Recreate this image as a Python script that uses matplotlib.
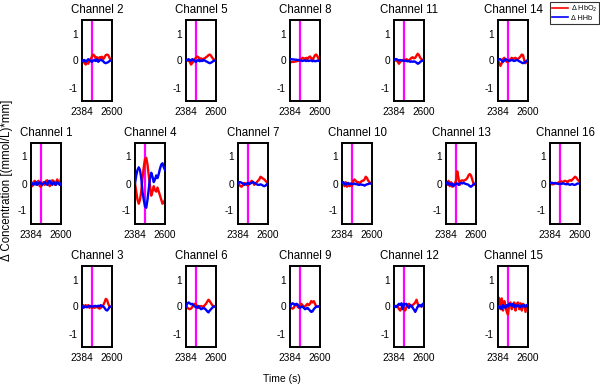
import numpy as np
import matplotlib
matplotlib.use("Agg")
import matplotlib.pyplot as plt
from matplotlib.lines import Line2D

plt.rcParams['font.family'] = ['Liberation Sans', 'DejaVu Sans']

time = np.arange(2384, 2601, 9)  # 25 samples
x_ticks = [2384, 2600]
y_ticks = [-1, 0, 1]
marker_time = 2457

row1 = [2, 5, 8, 11, 14]
row2 = [1, 4, 7, 10, 13, 16]
row3 = [3, 6, 9, 12, 15]

hbo = {
    1: [0, -0.1, 0.05, 0.1, -0.05, 0.05, 0.1, -0.1, -0.12, 0.0, 0.05, -0.05, 0.1, 0.12, 0.0, -0.1, 0.05, 0.12, 0.1, -0.05, 0.05, 0.15, 0.05, -0.05, 0.2],
    2: [0, 0.02, -0.1, -0.15, -0.05, -0.12, 0.0, 0.05, 0.15, 0.22, 0.18, 0.08, 0.12, 0.02, 0.12, 0.1, 0.14, 0.05, 0.12, 0.2, 0.22, 0.2, 0.1, 0.02, 0.0],
    3: [0, 0.05, -0.03, 0.05, 0.0, 0.05, -0.05, 0.02, -0.05, 0.0, -0.05, -0.03, 0.0, -0.05, -0.08, -0.05, 0.0, 0.05, 0.15, 0.28, 0.25, 0.1, 0.0, -0.02, 0.0],
    4: [0.0, -0.3, -0.6, -0.75, -0.6, -0.3, 0.2, 0.6, 0.9, 0.95, 0.7, 0.3, -0.1, -0.45, -0.3, -0.1, -0.25, -0.3, -0.15, -0.3, -0.45, -0.6, -0.75, -0.7, -0.6],
    5: [0, 0.02, 0.0, -0.05, -0.15, -0.1, 0.0, 0.05, 0.1, 0.15, 0.12, 0.05, 0.08, 0.03, 0.07, 0.08, 0.12, 0.15, 0.2, 0.22, 0.18, 0.1, 0.05, 0.02, 0.0],
    6: [0, -0.03, -0.08, -0.1, -0.08, -0.02, 0.05, 0.1, 0.08, 0.0, -0.05, 0.0, 0.02, 0.0, -0.02, 0.05, 0.1, 0.18, 0.25, 0.2, 0.12, 0.05, 0.0, 0.0, 0.0],
    7: [0, -0.05, -0.1, -0.12, -0.05, 0.02, 0.0, -0.05, -0.08, 0.0, 0.05, 0.1, 0.05, -0.05, 0.0, 0.05, 0.1, 0.15, 0.25, 0.22, 0.18, 0.15, 0.1, 0.05, 0.05],
    8: [-0.05, -0.06, -0.05, -0.05, -0.04, -0.03, -0.02, 0.0, 0.02, 0.05, 0.1, 0.08, 0.05, 0.1, 0.05, 0.12, 0.15, 0.08, 0.05, 0.1, 0.2, 0.22, 0.15, 0.05, 0.02],
    9: [0, -0.05, -0.08, -0.05, 0.05, 0.08, 0.0, -0.05, 0.0, 0.1, 0.05, -0.02, 0.0, 0.05, 0.1, 0.05, 0.1, 0.2, 0.15, 0.2, 0.1, 0.0, 0.0, 0.0, 0.0],
    10: [0.0, 0.05, -0.1, 0.05, -0.12, 0.0, -0.1, -0.05, -0.08, 0.1, 0.15, 0.1, 0.05, 0.05, 0.02, 0.05, 0.1, 0.1, 0.15, 0.25, 0.2, 0.1, 0.05, 0.0, 0.0],
    11: [0, 0.0, 0.02, -0.05, -0.12, -0.05, 0.0, 0.02, 0.0, 0.02, 0.05, 0.02, 0.0, 0.05, 0.1, 0.12, 0.08, 0.1, 0.18, 0.25, 0.2, 0.1, 0.05, 0.0, 0.0],
    12: [0.0, -0.02, 0.02, 0.0, -0.1, -0.15, -0.05, 0.0, -0.1, -0.15, 0.0, 0.05, 0.1, 0.05, 0.0, 0.05, 0.1, 0.15, 0.25, 0.1, 0.0, 0.02, 0.0, 0.05, 0.0],
    13: [0.05, -0.05, 0.1, -0.1, 0.05, -0.12, -0.05, 0.0, 0.1, 0.45, 0.2, -0.05, 0.1, 0.12, 0.1, 0.12, 0.15, 0.2, 0.3, 0.35, 0.3, 0.15, 0.0, -0.05, 0.0],
    14: [0, -0.1, -0.2, -0.1, 0.05, 0.1, 0.0, -0.05, -0.05, 0.02, 0.05, 0.1, 0.05, 0.08, 0.1, 0.05, 0.05, 0.1, 0.15, 0.22, 0.2, 0.0, -0.1, -0.05, 0.0],
    15: [0.35, 0.3, -0.1, 0.3, -0.15, 0.2, 0.0, -0.2, -0.3, 0.1, 0.15, -0.1, 0.05, 0.15, -0.15, 0.1, 0.15, -0.1, 0.12, -0.15, 0.1, 0.05, -0.2, 0.05, -0.1],
    16: [-0.03, -0.02, -0.03, -0.02, 0.0, 0.02, 0.0, 0.05, 0.05, 0.08, 0.05, 0.08, 0.1, 0.08, 0.05, 0.1, 0.12, 0.1, 0.15, 0.2, 0.25, 0.22, 0.15, 0.1, 0.05],
}

hhb = {
    1: [0.05, 0.0, -0.05, 0.0, 0.05, -0.05, 0.0, 0.05, 0.0, -0.05, 0.0, 0.05, 0.0, -0.05, 0.08, 0.1, 0.0, -0.05, 0.05, 0.0, -0.05, 0.05, 0.0, -0.05, 0.0],
    2: [0, -0.02, 0.02, -0.05, 0.0, 0.05, 0.02, -0.03, -0.05, 0.0, 0.02, -0.02, 0.04, -0.05, 0.0, 0.03, 0.0, -0.03, -0.08, -0.1, -0.08, -0.06, -0.02, 0.0, 0.0],
    3: [0.0, -0.05, 0.0, 0.0, -0.03, 0.0, 0.02, 0.0, 0.0, 0.0, 0.02, 0.02, 0.0, 0.03, 0.0, 0.05, 0.02, 0.0, -0.05, -0.12, -0.15, -0.1, -0.02, 0.0, 0.0],
    4: [0.0, 0.3, 0.5, 0.6, 0.5, 0.2, -0.3, -0.6, -0.85, -0.9, -0.6, -0.2, 0.2, 0.4, 0.25, 0.05, 0.15, 0.3, 0.2, 0.35, 0.55, 0.7, 0.75, 0.6, 0.5],
    5: [0.02, 0.0, 0.05, 0.02, -0.02, 0.05, 0.03, -0.03, -0.05, 0.0, 0.02, -0.03, 0.0, -0.02, 0.02, 0.0, -0.03, -0.05, -0.08, -0.1, -0.08, -0.05, -0.02, 0.0, 0.0],
    6: [0.0, 0.1, 0.15, 0.12, 0.08, 0.1, 0.05, 0.0, -0.02, -0.05, 0.02, -0.05, -0.1, -0.08, -0.05, -0.08, -0.12, -0.18, -0.22, -0.15, -0.1, -0.05, 0.0, 0.0, 0.0],
    7: [0.0, 0.05, 0.05, 0.02, 0.0, -0.05, -0.03, 0.0, 0.02, -0.02, 0.0, 0.03, 0.05, 0.02, 0.0, -0.03, -0.05, -0.05, -0.03, -0.05, -0.08, -0.1, -0.08, -0.03, 0.0],
    8: [0.05, 0.05, 0.04, 0.04, 0.03, 0.03, 0.02, 0.02, 0.0, 0.0, -0.02, 0.0, 0.0, -0.02, 0.0, -0.02, 0.0, 0.0, -0.03, 0.0, -0.03, -0.02, 0.0, -0.02, 0.0],
    9: [0.0, 0.08, 0.12, 0.1, 0.05, 0.1, 0.08, 0.0, -0.05, -0.02, 0.0, -0.05, -0.1, -0.08, -0.05, -0.1, -0.15, -0.2, -0.18, -0.1, -0.05, 0.0, 0.0, 0.0, 0.0],
    10: [0.02, 0.05, 0.0, -0.05, 0.0, 0.02, -0.03, 0.0, -0.02, -0.02, 0.0, -0.03, -0.02, -0.05, -0.05, -0.03, -0.05, -0.05, -0.08, -0.05, -0.03, -0.02, 0.0, 0.0, 0.0],
    11: [0.02, 0.05, 0.05, 0.02, 0.0, 0.02, 0.0, 0.0, -0.02, 0.0, -0.02, -0.03, -0.02, -0.05, -0.03, -0.05, -0.03, -0.05, -0.08, -0.12, -0.1, -0.05, -0.02, 0.0, 0.0],
    12: [0.0, 0.02, -0.02, 0.05, 0.1, 0.05, 0.12, -0.1, 0.1, 0.08, 0.1, 0.0, -0.05, 0.05, 0.02, -0.05, -0.12, -0.2, -0.1, 0.0, 0.05, 0.05, 0.0, 0.1, 0.0],
    13: [0.0, 0.05, -0.03, 0.0, -0.05, 0.0, -0.1, -0.05, 0.0, 0.0, -0.05, 0.0, 0.02, 0.0, 0.03, 0.0, -0.02, -0.03, -0.05, -0.1, -0.12, -0.08, -0.03, 0.0, 0.0],
    14: [0.02, 0.05, 0.05, 0.0, -0.05, 0.0, 0.05, 0.03, 0.0, -0.02, 0.0, 0.02, 0.0, -0.02, 0.0, 0.02, 0.0, -0.03, -0.05, -0.08, -0.1, -0.08, -0.05, 0.0, 0.0],
    15: [0.0, -0.05, 0.0, -0.1, 0.05, 0.0, -0.05, 0.05, 0.0, 0.1, 0.08, 0.02, 0.1, -0.02, 0.05, 0.0, 0.05, 0.0, -0.02, 0.05, 0.0, 0.05, -0.02, 0.05, 0.08],
    16: [0.02, 0.03, 0.02, 0.0, 0.02, 0.0, 0.0, -0.02, 0.0, -0.02, 0.0, 0.0, -0.02, -0.03, -0.02, -0.03, -0.05, -0.03, -0.02, -0.05, -0.05, -0.03, 0.0, 0.0, 0.0],
}

W, H = 600, 385
fig = plt.figure(figsize=(W / 100, H / 100), dpi=100)

aw, ah = 30, 81
layout = []
for ch, left in zip(row1, [82, 186, 290, 394, 498]):
    layout.append((ch, left, 20))
for ch, left in zip(row2, [31, 135, 238, 342, 446, 550]):
    layout.append((ch, left, 143))
for ch, left in zip(row3, [82, 186, 290, 394, 498]):
    layout.append((ch, left, 266))

for ch, left, top in layout:
    ax = fig.add_axes([left / W, 1 - (top + ah) / H, aw / W, ah / H])
    ax.axvline(marker_time, color='#ff00ff', lw=1.6, zorder=1)
    ax.plot(time, hbo[ch], color='#ff0000', lw=1.7, zorder=2)
    ax.plot(time, hhb[ch], color='#0000ff', lw=1.7, zorder=3)
    ax.set_xlim(2384, 2600)
    ax.set_ylim(-1.5, 1.5)
    ax.set_xticks(x_ticks)
    ax.set_xticklabels([str(v) for v in x_ticks])
    ax.set_yticks(y_ticks)
    ax.set_yticklabels(['-1', '0', '1'])
    ax.tick_params(direction='in', length=0, labelsize=7.3, pad=3)
    ax.tick_params(axis='x', pad=4)
    for s in ax.spines.values():
        s.set_linewidth(1.4)
    ax.set_title(f'Channel {ch}', fontsize=8.3, pad=5)

fig.text(7 / W, 1 - 180 / H, 'Δ Concentration [(mmol/L)*mm]', rotation=90,
         ha='center', va='center', fontsize=8.3)
fig.text(282 / W, 1 - 379 / H, 'Time (s)', ha='center', va='center', fontsize=7.5)

handles = [Line2D([], [], color='#ff0000', lw=1.2),
           Line2D([], [], color='#0000ff', lw=1.2)]
leg = fig.legend(handles, ['Δ HbO$_2$', 'Δ HHb'], loc='upper right',
                 bbox_to_anchor=(599 / W, 1 - 2 / H), fontsize=5.2,
                 frameon=True, fancybox=False, borderpad=0.25,
                 labelspacing=0.1, handlelength=2.2, handletextpad=0.4,
                 borderaxespad=0)
leg.get_frame().set_edgecolor('black')
leg.get_frame().set_linewidth(0.8)

fig.savefig('out.png', dpi=100)
